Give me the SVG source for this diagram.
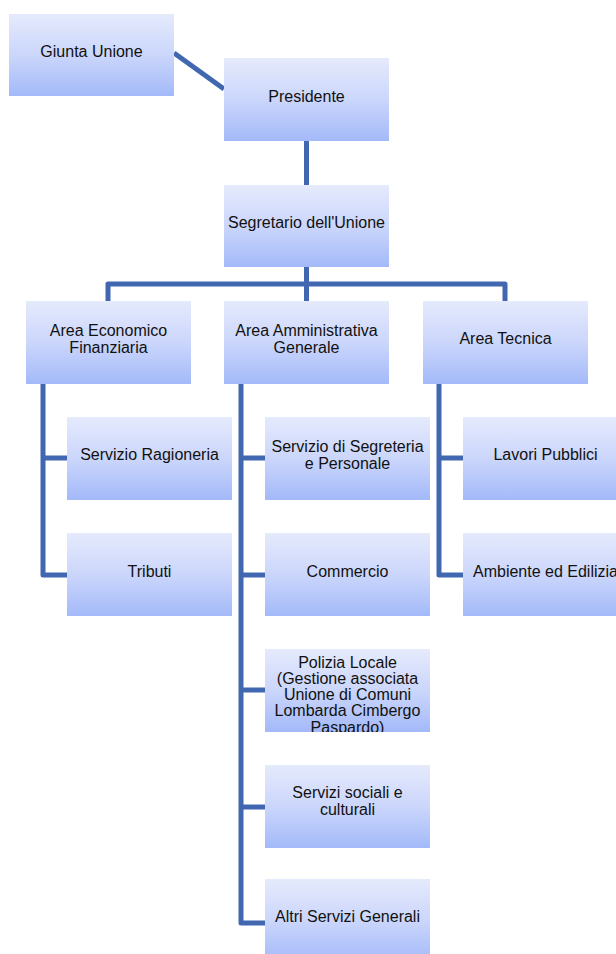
<svg xmlns="http://www.w3.org/2000/svg" width="616" height="954" viewBox="0 0 616 954">
<defs>
<linearGradient id="g" x1="0" y1="0" x2="0" y2="1">
<stop offset="0" stop-color="#E5EAFC"/>
<stop offset="0.5" stop-color="#CBD6FB"/>
<stop offset="1" stop-color="#A3B9F9"/>
</linearGradient>
<clipPath id="clipPol"><rect x="265" y="649" width="165" height="83"/></clipPath>
</defs>
<style>
.box{fill:url(#g);}
.t{font-family:"Liberation Sans",Arial,sans-serif;font-size:16px;fill:#111;text-anchor:middle;}
.c{fill:none;stroke:#4067B0;stroke-width:5;stroke-linejoin:round;}
</style>
<rect width="616" height="954" fill="#fff"/>
<g id="connectors">
<path class="c" d="M174,53 L224,89"/>
<path class="c" d="M306.5,141 V185"/>
<path class="c" d="M108,301 V284 H505 V301"/>
<path class="c" d="M306.5,267 V301"/>
<path class="c" d="M43,384 V575 H67"/>
<path class="c" d="M43,458 H67"/>
<path class="c" d="M241,384 V923 H265"/>
<path class="c" d="M241,458 H265"/>
<path class="c" d="M241,575 H265"/>
<path class="c" d="M241,690 H265"/>
<path class="c" d="M241,807 H265"/>
<path class="c" d="M439,384 V575 H463"/>
<path class="c" d="M439,458 H463"/>
</g>
<g id="giunta"><rect class="box" x="9" y="14" width="165" height="82"/><text class="t" x="91.5" y="57">Giunta Unione</text></g>
<g id="presidente"><rect class="box" x="224" y="58" width="165" height="83"/><text class="t" x="306.5" y="102">Presidente</text></g>
<g id="segretario"><rect class="box" x="224" y="185" width="165" height="82"/><text class="t" x="306.5" y="228">Segretario dell'Unione</text></g>
<g id="area-economico"><rect class="box" x="26" y="301" width="165" height="83"/><text class="t" x="108.5" y="336">Area Economico</text><text class="t" x="108.5" y="352.5">Finanziaria</text></g>
<g id="area-amministrativa"><rect class="box" x="224" y="301" width="165" height="83"/><text class="t" x="306.5" y="336">Area Amministrativa</text><text class="t" x="306.5" y="352.5">Generale</text></g>
<g id="area-tecnica"><rect class="box" x="423" y="301" width="165" height="83"/><text class="t" x="505.5" y="344">Area Tecnica</text></g>
<g id="ragioneria"><rect class="box" x="67" y="417" width="165" height="83"/><text class="t" x="149.5" y="460">Servizio Ragioneria</text></g>
<g id="tributi"><rect class="box" x="67" y="533" width="165" height="83"/><text class="t" x="149.5" y="577">Tributi</text></g>
<g id="segreteria"><rect class="box" x="265" y="417" width="165" height="83"/><text class="t" x="347.5" y="452">Servizio di Segreteria</text><text class="t" x="347.5" y="468.5">e Personale</text></g>
<g id="commercio"><rect class="box" x="265" y="533" width="165" height="83"/><text class="t" x="347.5" y="577">Commercio</text></g>
<g id="polizia"><rect class="box" x="265" y="649" width="165" height="83"/>
<g clip-path="url(#clipPol)">
<text class="t" x="347.5" y="667.5">Polizia Locale</text>
<text class="t" x="347.5" y="683.8">(Gestione associata</text>
<text class="t" x="347.5" y="700.1">Unione di Comuni</text>
<text class="t" x="347.5" y="716.4">Lombarda Cimbergo</text>
<text class="t" x="347.5" y="732.7">Paspardo)</text>
</g></g>
<g id="sociali"><rect class="box" x="265" y="765" width="165" height="83"/><text class="t" x="347.5" y="798">Servizi sociali e</text><text class="t" x="347.5" y="814.5">culturali</text></g>
<g id="altri"><rect class="box" x="265" y="879" width="165" height="83"/><text class="t" x="347.5" y="922">Altri Servizi Generali</text></g>
<g id="lavori"><rect class="box" x="463" y="417" width="165" height="83"/><text class="t" x="545.5" y="460">Lavori Pubblici</text></g>
<g id="ambiente"><rect class="box" x="463" y="533" width="165" height="83"/><text class="t" x="545.5" y="577">Ambiente ed Edilizia</text></g>
</svg>
